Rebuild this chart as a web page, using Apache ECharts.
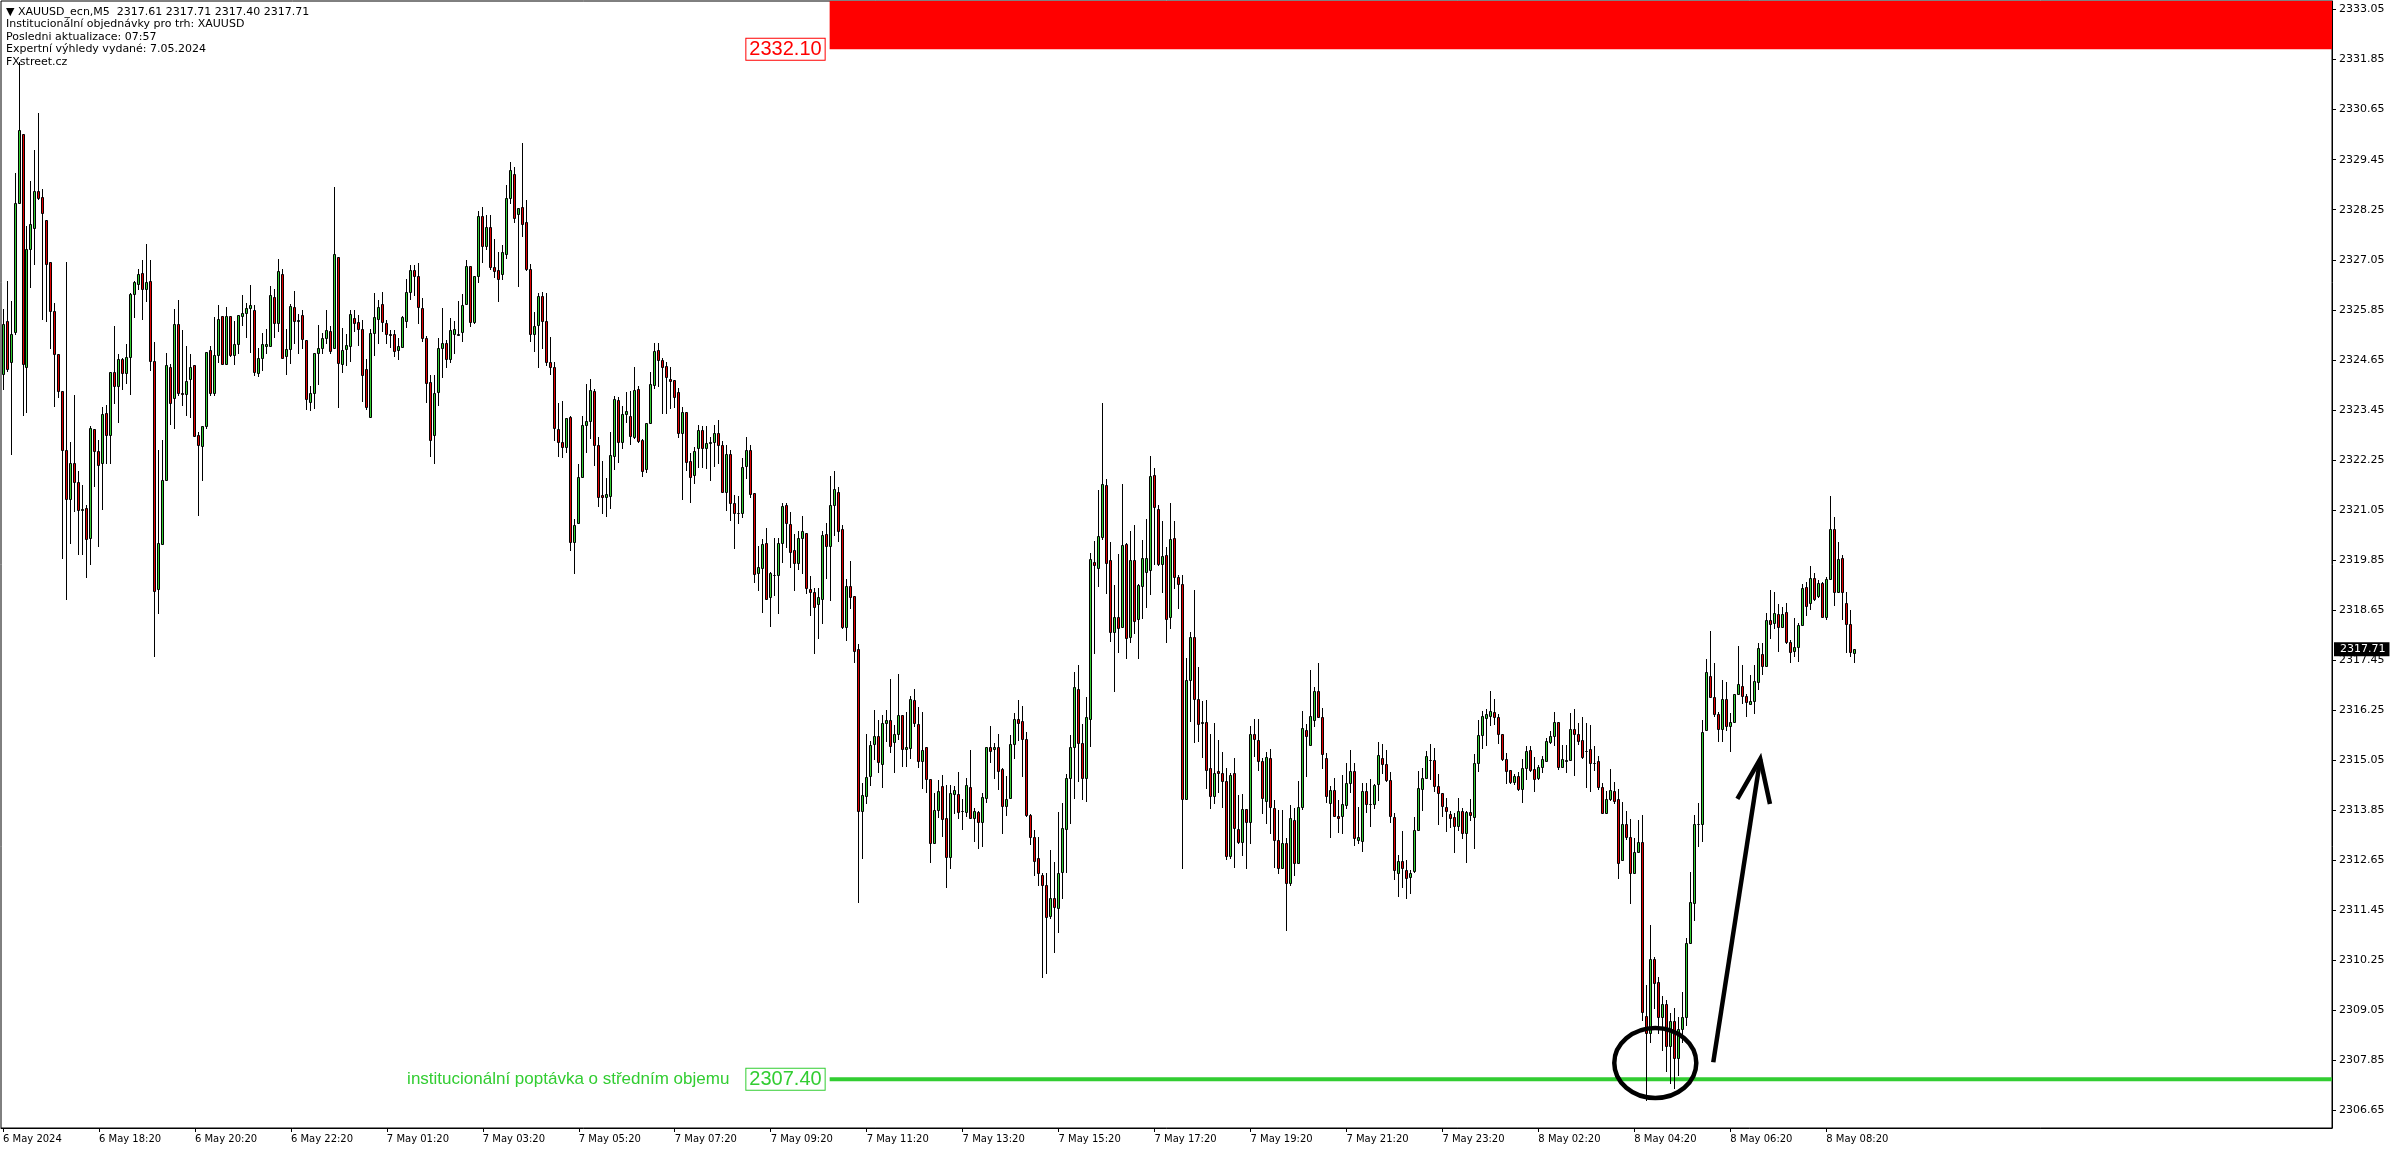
<!DOCTYPE html>
<html>
<head>
<meta charset="utf-8">
<script src="https://cdn.jsdelivr.net/npm/echarts@6/dist/echarts.min.js"></script>
<style>
html,body{margin:0;padding:0;background:#fff;}
#chart{width:2396px;height:1154px;}
</style>
</head>
<body>
<div id="chart"></div>
<script>
// ---------------- data ----------------
const symbolName = 'XAUUSD_ecn,M5';
const infoLines = [
  'Institucionální objednávky pro trh: XAUUSD',
  'Posledni aktualizace: 07:57',
  'Expertní výhledy vydané: 7.05.2024',
  'FXstreet.cz'
];
const xTickLabels = ['6 May 2024','6 May 18:20','6 May 20:20','6 May 22:20','7 May 01:20','7 May 03:20',
  '7 May 05:20','7 May 07:20','7 May 09:20','7 May 11:20','7 May 13:20','7 May 15:20','7 May 17:20',
  '7 May 19:20','7 May 21:20','7 May 23:20','8 May 02:20','8 May 04:20','8 May 06:20','8 May 08:20'];
const yTickValues = [2306.65,2307.85,2309.05,2310.25,2311.45,2312.65,2313.85,2315.05,2316.25,2317.45,
  2318.65,2319.85,2321.05,2322.25,2323.45,2324.65,2325.85,2327.05,2328.25,2329.45,2330.65,2331.85,2333.05];
// M5 bars from 6 May 16:20, rows: [open, high, low, close]
const ohlc = [
[2324.30,2325.86,2323.95,2325.52],[2325.57,2326.55,2324.39,2324.44],[2324.59,2326.06,2322.39,2325.27],[2325.32,2329.14,2325.27,2328.41],[2328.41,2331.80,2328.41,2330.17],
[2330.07,2330.07,2323.32,2324.54],[2324.49,2327.87,2323.40,2327.30],[2327.30,2328.94,2326.40,2327.90],[2327.82,2329.68,2326.94,2328.70],[2328.70,2330.56,2328.50,2328.53],
[2328.55,2328.75,2325.62,2328.16],[2328.01,2328.01,2325.59,2326.96],[2326.99,2326.99,2324.93,2325.81],[2325.81,2326.01,2323.54,2324.80],[2324.80,2324.80,2323.76,2323.90],
[2323.90,2323.90,2319.89,2322.50],[2322.50,2326.99,2318.91,2321.31],[2321.31,2322.68,2320.25,2322.17],[2322.17,2323.81,2321.02,2321.72],[2321.72,2321.99,2319.99,2321.05],
[2321.05,2321.65,2319.99,2321.07],[2321.09,2321.16,2319.45,2320.36],[2320.38,2323.07,2319.76,2323.02],[2323.00,2323.00,2321.62,2322.47],[2322.47,2322.73,2320.19,2322.14],
[2322.17,2323.51,2321.07,2323.36],[2323.37,2323.56,2322.17,2322.85],[2322.85,2324.37,2322.17,2324.37],[2324.37,2325.47,2323.61,2324.02],[2324.02,2324.78,2323.17,2324.67],
[2324.67,2324.69,2323.95,2324.34],[2324.34,2325.03,2324.10,2324.72],[2324.72,2326.25,2323.83,2326.22],[2326.22,2326.55,2325.67,2326.51],[2326.48,2326.84,2326.35,2326.72],
[2326.74,2327.04,2325.64,2326.35],[2326.35,2327.43,2326.06,2326.51],[2326.55,2327.04,2324.41,2324.62],[2324.62,2325.08,2317.54,2319.11],[2319.16,2322.48,2318.57,2320.25],
[2320.23,2322.73,2320.23,2321.77],[2321.77,2324.81,2321.77,2324.52],[2324.49,2324.54,2323.12,2323.61],[2323.73,2325.86,2323.02,2325.50],[2325.50,2326.09,2323.81,2323.85],
[2323.85,2325.37,2323.56,2323.83],[2323.83,2324.98,2323.32,2324.15],[2324.20,2324.78,2323.27,2324.49],[2324.52,2324.52,2322.83,2322.83],[2322.85,2322.93,2320.92,2322.60],
[2322.58,2323.07,2321.77,2323.07],[2323.07,2324.83,2323.02,2324.83],[2324.88,2324.98,2323.81,2323.85],[2323.85,2325.67,2323.81,2324.77],[2324.77,2325.96,2324.59,2325.62],
[2325.71,2325.71,2324.54,2324.54],[2324.54,2325.91,2324.54,2325.71],[2325.71,2325.71,2324.74,2324.77],[2324.77,2325.57,2324.54,2325.03],[2325.02,2325.73,2324.81,2325.73],
[2325.71,2326.20,2325.49,2325.78],[2325.78,2326.01,2325.19,2325.89],[2325.89,2326.44,2324.85,2325.97],[2325.84,2325.97,2324.29,2324.37],[2324.33,2324.93,2324.27,2324.69],
[2324.70,2325.29,2324.41,2325.02],[2324.99,2325.38,2324.82,2325.02],[2324.99,2326.42,2324.99,2326.20],[2326.15,2326.36,2325.21,2325.53],[2325.53,2327.06,2325.35,2326.77],
[2326.70,2326.82,2324.70,2324.70],[2324.75,2325.38,2324.32,2324.90],[2324.91,2326.00,2324.57,2325.94],[2325.91,2326.29,2325.06,2325.57],[2325.57,2325.75,2324.82,2325.61],
[2325.72,2325.84,2324.94,2325.14],[2325.13,2325.13,2323.46,2323.70],[2323.65,2324.02,2323.45,2323.85],[2323.86,2324.82,2323.49,2324.81],[2324.81,2325.49,2324.07,2324.93],
[2324.93,2325.29,2324.81,2325.17],[2325.17,2325.85,2325.05,2325.37],[2325.34,2325.45,2324.82,2324.87],[2324.94,2328.79,2324.94,2327.18],[2327.11,2327.11,2323.53,2324.57],
[2324.54,2325.41,2324.35,2324.89],[2324.92,2325.27,2324.53,2325.00],[2324.98,2325.84,2324.63,2325.75],[2325.65,2325.85,2325.33,2325.54],[2325.55,2325.72,2325.00,2325.38],
[2325.40,2325.60,2323.67,2324.28],[2324.42,2324.67,2323.48,2323.53],[2323.27,2325.39,2323.27,2325.29],[2325.29,2326.25,2324.76,2325.67],[2325.64,2326.08,2325.05,2325.91],
[2325.98,2326.27,2325.33,2325.55],[2325.54,2325.61,2325.05,2325.26],[2325.26,2325.37,2324.95,2325.25],[2325.26,2325.37,2324.75,2324.87],[2324.88,2325.17,2324.68,2324.99],
[2324.97,2325.70,2324.97,2325.67],[2325.57,2326.59,2325.43,2326.27],[2326.27,2326.93,2326.10,2326.80],[2326.80,2326.92,2326.20,2326.65],[2326.67,2326.97,2325.53,2325.91],
[2325.89,2326.13,2325.10,2325.17],[2325.17,2325.22,2323.65,2324.09],[2324.11,2324.29,2322.35,2322.74],[2322.84,2324.29,2322.17,2323.85],[2323.89,2325.17,2323.56,2324.93],
[2324.93,2325.89,2324.25,2325.05],[2325.05,2325.13,2324.49,2324.66],[2324.66,2325.66,2324.61,2325.37],[2325.26,2325.58,2324.82,2325.39],[2325.25,2326.06,2325.25,2325.27],
[2325.31,2326.23,2325.11,2325.97],[2325.98,2327.04,2325.98,2326.90],[2326.90,2326.90,2325.47,2325.56],[2325.56,2326.66,2325.53,2326.66],[2326.67,2328.22,2326.52,2328.10],
[2328.10,2328.32,2327.00,2327.39],[2327.39,2328.12,2327.30,2327.84],[2327.84,2328.12,2326.84,2326.87],[2326.88,2327.55,2326.64,2326.78],[2326.80,2327.23,2326.07,2326.59],
[2326.72,2327.40,2326.59,2327.23],[2327.20,2328.84,2327.10,2328.52],[2328.54,2329.39,2328.42,2329.20],[2329.11,2329.27,2327.96,2328.06],[2328.15,2328.28,2326.43,2328.28],
[2328.31,2329.84,2327.63,2327.90],[2327.95,2328.48,2326.80,2326.84],[2326.84,2326.94,2325.11,2325.26],[2325.26,2325.80,2324.87,2325.46],[2325.48,2326.25,2324.49,2326.18],
[2326.18,2326.28,2324.94,2325.57],[2325.57,2326.25,2324.53,2324.59],[2324.59,2325.20,2324.30,2324.47],[2324.47,2324.60,2322.74,2323.01],[2322.99,2323.61,2322.35,2322.69],
[2322.67,2323.66,2322.33,2322.57],[2322.57,2323.25,2322.45,2323.25],[2323.29,2323.31,2320.09,2320.29],[2320.29,2320.83,2319.55,2320.69],[2320.73,2322.15,2320.73,2321.85],
[2321.85,2323.30,2321.83,2323.08],[2323.08,2324.06,2322.45,2323.18],[2323.18,2324.19,2322.77,2323.93],[2323.90,2323.95,2322.14,2322.62],[2322.62,2322.79,2321.15,2321.37],
[2321.40,2322.22,2320.97,2321.37],[2321.37,2321.81,2320.91,2321.43],[2321.39,2322.91,2321.11,2322.37],[2322.35,2323.78,2322.03,2323.70],[2323.69,2323.75,2322.21,2322.67],
[2322.67,2323.54,2322.53,2323.34],[2323.34,2323.87,2323.17,2323.42],[2323.30,2323.90,2322.63,2322.83],[2322.81,2324.48,2322.77,2323.93],[2323.95,2324.03,2322.69,2322.71],
[2322.73,2322.75,2321.87,2321.99],[2322.03,2323.13,2321.97,2323.13],[2323.13,2324.35,2323.13,2324.06],[2324.05,2325.05,2323.97,2324.86],[2324.89,2325.05,2324.03,2324.65],
[2324.65,2324.69,2323.37,2324.49],[2324.50,2324.59,2323.37,2324.23],[2324.19,2324.47,2323.50,2324.15],[2324.17,2324.17,2323.53,2323.75],[2323.87,2323.97,2322.81,2322.89],
[2322.89,2323.51,2321.31,2323.39],[2323.39,2323.39,2322.00,2322.21],[2322.22,2322.41,2321.25,2321.85],[2321.89,2322.57,2321.69,2322.46],[2322.53,2323.09,2322.09,2322.97],
[2322.97,2323.06,2322.09,2322.53],[2322.53,2323.06,2322.05,2322.65],[2322.65,2322.80,2321.77,2322.69],[2322.69,2323.10,2322.10,2322.90],[2322.90,2323.20,2322.17,2322.60],
[2322.60,2322.70,2321.49,2321.49],[2321.49,2322.60,2321.05,2322.40],[2322.40,2322.50,2320.81,2321.21],[2321.23,2321.41,2320.15,2320.97],[2320.97,2321.39,2320.73,2320.97],
[2320.97,2322.30,2320.89,2322.07],[2322.10,2322.80,2321.81,2322.50],[2322.50,2322.60,2321.35,2321.43],[2321.45,2321.45,2319.33,2319.51],[2319.53,2320.19,2319.13,2319.68],
[2319.65,2320.36,2318.61,2320.23],[2320.25,2320.61,2318.91,2318.91],[2318.96,2319.57,2318.28,2319.53],[2319.50,2320.37,2319.01,2319.50],[2319.48,2320.37,2318.59,2320.27],
[2320.25,2321.23,2319.81,2321.15],[2321.17,2321.23,2320.17,2320.73],[2320.71,2321.01,2319.69,2320.05],[2320.09,2320.47,2319.13,2319.77],[2319.77,2320.55,2319.63,2320.37],
[2320.39,2320.91,2319.55,2320.55],[2320.49,2320.49,2319.07,2319.17],[2319.16,2319.47,2318.53,2319.08],[2319.08,2319.17,2317.63,2318.73],[2318.79,2319.17,2317.99,2318.96],
[2318.91,2320.55,2318.35,2320.45],[2320.47,2320.75,2319.43,2320.19],[2320.19,2321.87,2318.89,2321.17],[2321.17,2321.99,2320.45,2321.55],[2321.47,2321.59,2320.31,2320.55],
[2320.59,2320.69,2318.23,2318.25],[2318.25,2319.40,2317.93,2319.23],[2319.23,2319.83,2318.71,2318.97],[2318.99,2318.99,2317.41,2317.68],[2317.72,2317.84,2311.66,2313.84],
[2313.84,2314.51,2312.70,2314.22],[2314.19,2315.68,2314.02,2314.64],[2314.67,2315.50,2314.46,2315.42],[2315.43,2316.26,2315.08,2315.63],[2315.63,2316.02,2314.78,2315.00],
[2314.96,2316.13,2314.42,2315.94],[2315.94,2316.26,2315.52,2316.02],[2316.02,2316.99,2315.24,2315.40],[2315.48,2315.90,2314.78,2315.67],[2315.67,2317.13,2315.55,2316.13],
[2316.13,2316.13,2314.92,2315.31],[2315.31,2316.21,2314.92,2315.36],[2315.34,2316.59,2315.11,2316.53],[2316.49,2316.76,2315.88,2315.95],[2315.92,2316.33,2314.90,2315.04],
[2315.03,2316.21,2314.38,2315.30],[2315.36,2315.36,2314.30,2314.59],[2314.59,2314.59,2312.62,2313.07],[2313.06,2314.26,2313.06,2313.86],[2313.86,2314.58,2313.70,2314.31],
[2314.43,2314.70,2313.24,2313.63],[2313.66,2314.46,2312.02,2312.74],[2312.74,2314.46,2312.47,2314.26],[2314.23,2314.43,2313.78,2314.34],[2314.23,2314.78,2313.66,2313.82],
[2313.84,2314.11,2313.39,2313.84],[2313.82,2314.63,2313.71,2314.46],[2314.40,2315.30,2313.66,2313.66],[2313.66,2313.90,2313.12,2313.83],[2313.80,2313.83,2312.94,2313.58],
[2313.56,2314.26,2313.00,2314.16],[2314.14,2315.36,2314.06,2315.36],[2315.36,2315.86,2315.02,2315.28],[2315.31,2315.46,2314.63,2315.36],[2315.36,2315.68,2314.36,2314.80],
[2314.83,2314.86,2313.30,2313.96],[2313.95,2314.67,2313.74,2314.11],[2314.14,2315.66,2314.14,2315.43],[2315.43,2316.19,2315.11,2316.03],[2316.03,2316.50,2315.54,2315.95],
[2315.98,2316.35,2314.68,2315.55],[2315.55,2315.73,2313.71,2313.74],[2313.74,2313.76,2313.04,2313.22],[2313.22,2313.38,2312.31,2312.63],[2312.70,2313.20,2312.06,2312.34],
[2312.31,2312.34,2309.85,2312.07],[2312.07,2312.34,2309.96,2311.30],[2311.32,2312.90,2311.26,2311.74],[2311.74,2312.62,2310.46,2311.54],[2311.50,2313.82,2310.94,2312.34],
[2312.38,2314.02,2311.74,2313.42],[2313.39,2314.72,2312.36,2314.62],[2314.62,2315.66,2313.55,2315.36],[2315.36,2317.16,2314.14,2316.80],[2316.77,2317.33,2314.56,2315.47],
[2315.46,2315.92,2314.11,2314.62],[2314.62,2316.56,2314.08,2316.08],[2316.03,2320.01,2315.38,2319.87],[2319.81,2320.31,2317.63,2319.72],[2319.65,2321.53,2319.24,2320.43],
[2320.41,2323.61,2320.35,2321.67],[2321.65,2321.79,2319.07,2319.77],[2319.85,2320.29,2317.90,2318.12],[2318.12,2319.25,2316.71,2318.48],[2318.48,2319.99,2317.65,2318.21],
[2318.25,2321.67,2318.25,2320.20],[2320.23,2320.25,2317.51,2317.99],[2318.01,2320.55,2317.89,2319.85],[2319.85,2320.69,2318.09,2318.40],[2318.43,2319.27,2317.51,2319.25],
[2319.24,2320.33,2318.45,2319.89],[2319.57,2320.83,2318.72,2319.91],[2319.60,2322.35,2319.03,2321.86],[2321.89,2322.05,2319.75,2321.13],[2321.07,2321.17,2319.73,2319.75],
[2319.75,2320.79,2319.09,2319.95],[2319.97,2320.17,2317.89,2318.43],[2318.48,2321.21,2318.23,2320.35],[2320.37,2320.79,2319.17,2319.44],[2319.44,2319.49,2318.70,2319.28],
[2319.28,2319.49,2312.46,2314.11],[2314.11,2317.49,2314.11,2316.97],[2316.97,2318.12,2316.00,2318.00],[2318.00,2319.13,2315.48,2316.53],[2316.53,2317.28,2315.52,2315.93],
[2315.95,2316.47,2315.12,2315.96],[2315.96,2316.49,2314.38,2314.82],[2314.86,2315.68,2313.91,2314.20],[2314.19,2315.94,2314.02,2314.74],[2314.79,2315.54,2314.30,2314.74],
[2314.74,2315.24,2313.94,2314.55],[2314.55,2314.86,2312.68,2312.76],[2312.76,2314.74,2312.70,2314.70],[2314.74,2315.10,2312.50,2313.43],[2313.40,2314.22,2313.07,2313.10],
[2313.10,2314.24,2312.78,2313.87],[2313.87,2313.87,2312.46,2313.56],[2313.56,2315.88,2313.06,2315.68],[2315.69,2316.05,2315.16,2315.55],[2315.54,2316.03,2314.82,2315.04],
[2315.03,2315.10,2313.79,2314.14],[2314.08,2315.24,2313.54,2315.12],[2315.10,2315.32,2313.31,2313.94],[2313.90,2314.10,2312.50,2313.15],[2313.15,2313.86,2312.34,2312.46],
[2312.46,2313.86,2312.46,2313.06],[2313.06,2313.18,2310.98,2312.10],[2312.10,2313.98,2312.06,2313.66],[2313.62,2313.90,2312.30,2312.58],[2312.58,2314.56,2312.58,2313.92],
[2313.92,2316.23,2313.87,2315.82],[2315.78,2315.92,2314.67,2315.62],[2315.42,2317.21,2315.42,2316.11],[2316.02,2316.80,2315.88,2316.71],[2316.71,2317.37,2316.08,2316.08],
[2316.09,2316.31,2314.87,2315.19],[2315.10,2315.22,2314.04,2314.20],[2314.02,2314.43,2313.20,2314.34],[2314.34,2314.63,2313.72,2313.72],[2313.72,2314.10,2313.34,2313.67],
[2313.71,2314.70,2313.30,2313.99],[2313.98,2314.99,2313.90,2314.50],[2314.50,2315.30,2314.30,2314.79],[2314.79,2314.99,2313.03,2313.18],[2313.14,2313.92,2313.06,2313.20],
[2313.11,2314.51,2312.88,2314.31],[2314.31,2314.51,2313.80,2314.00],[2314.00,2314.60,2313.48,2314.00],[2313.99,2314.48,2313.90,2314.46],[2314.47,2315.48,2314.10,2315.18],
[2315.10,2315.44,2314.75,2314.95],[2314.96,2315.30,2314.56,2314.58],[2314.58,2314.78,2313.58,2313.72],[2313.68,2313.79,2312.20,2312.43],[2312.34,2312.78,2311.80,2312.63],
[2312.63,2313.36,2312.02,2312.47],[2312.43,2312.67,2311.74,2312.23],[2312.26,2312.42,2311.86,2312.34],[2312.39,2313.68,2312.38,2313.38],[2313.38,2314.79,2313.38,2314.38],
[2314.35,2314.86,2313.86,2314.62],[2314.63,2315.27,2314.63,2315.15],[2315.05,2315.43,2314.59,2315.06],[2315.06,2315.34,2314.31,2314.44],[2314.44,2314.71,2313.52,2314.26],
[2314.26,2314.26,2313.71,2313.96],[2313.92,2314.14,2313.36,2313.84],[2313.75,2313.83,2313.46,2313.67],[2313.70,2313.79,2312.86,2313.48],[2313.48,2314.15,2313.38,2313.83],
[2313.83,2313.91,2313.19,2313.30],[2313.30,2313.83,2312.62,2313.80],[2313.80,2314.12,2313.62,2313.73],[2313.70,2315.20,2312.95,2314.98],[2314.98,2316.01,2314.80,2315.66],
[2315.66,2316.24,2315.35,2316.11],[2316.07,2316.27,2315.42,2316.17],[2316.12,2316.71,2315.90,2316.23],[2316.20,2316.52,2315.91,2316.08],[2316.08,2316.17,2315.47,2315.67],
[2315.67,2315.67,2315.06,2315.07],[2315.07,2315.22,2314.50,2314.80],[2314.82,2314.82,2314.51,2314.52],[2314.52,2314.71,2314.47,2314.67],[2314.67,2314.78,2314.34,2314.36],
[2314.35,2315.08,2314.06,2314.86],[2314.86,2315.40,2314.59,2315.26],[2315.30,2315.40,2314.80,2314.82],[2314.83,2315.14,2314.32,2314.59],[2314.62,2314.94,2314.59,2314.88],
[2314.88,2315.15,2314.78,2315.08],[2315.04,2315.58,2315.04,2315.50],[2315.48,2315.74,2315.46,2315.63],[2315.63,2316.20,2315.42,2315.96],[2315.96,2315.96,2314.83,2314.90],
[2314.90,2315.41,2314.88,2315.08],[2315.04,2315.41,2314.78,2315.05],[2315.06,2316.19,2315.06,2315.79],[2315.79,2316.29,2314.70,2315.69],[2315.67,2315.95,2315.43,2315.51],
[2315.54,2316.08,2315.10,2315.14],[2315.27,2315.94,2314.40,2315.28],[2315.31,2315.90,2314.31,2314.98],[2314.98,2315.39,2314.82,2314.98],[2315.03,2315.16,2314.35,2314.42],
[2314.40,2314.50,2313.78,2313.78],[2313.78,2314.31,2313.78,2314.12],[2314.12,2314.83,2314.10,2314.34],[2314.31,2314.54,2314.03,2314.08],[2314.12,2314.35,2312.22,2312.58],
[2312.67,2314.04,2312.67,2313.51],[2313.51,2313.83,2313.16,2313.22],[2313.20,2313.63,2311.62,2312.34],[2312.34,2313.18,2312.34,2312.84],[2312.84,2313.62,2312.84,2313.10],
[2313.10,2313.74,2308.82,2309.01],[2308.92,2309.66,2306.90,2308.50],[2308.52,2311.10,2308.30,2310.28],[2310.28,2310.34,2309.10,2309.70],[2309.74,2309.85,2308.50,2308.90],
[2308.90,2309.40,2308.10,2309.20],[2309.20,2309.30,2307.60,2308.20],[2308.20,2309.00,2307.30,2308.80],[2308.80,2309.10,2307.20,2307.90],[2307.90,2308.90,2307.50,2308.60],
[2308.60,2309.50,2308.30,2308.90],[2308.90,2310.78,2308.70,2310.66],[2310.66,2312.38,2310.66,2311.65],[2311.63,2313.73,2311.23,2313.51],[2313.51,2314.03,2313.00,2313.53],
[2313.53,2316.02,2313.12,2315.72],[2315.78,2317.48,2315.78,2317.16],[2317.07,2318.15,2316.56,2316.56],[2316.56,2317.39,2316.11,2316.17],[2316.17,2316.21,2315.51,2315.81],
[2315.79,2316.97,2315.50,2316.53],[2316.53,2316.92,2315.78,2315.86],[2315.86,2316.18,2315.26,2315.96],[2315.96,2316.65,2315.96,2316.63],[2316.63,2317.79,2316.63,2316.88],
[2316.84,2317.33,2316.43,2316.59],[2316.59,2316.65,2316.12,2316.44],[2316.39,2317.09,2316.39,2316.48],[2316.48,2317.33,2316.18,2316.95],[2316.92,2317.85,2316.75,2317.73],
[2317.60,2317.85,2317.13,2317.32],[2317.32,2318.59,2317.32,2318.41],[2318.41,2319.13,2317.99,2318.31],[2318.33,2319.09,2318.23,2318.57],[2318.55,2318.80,2317.68,2318.25],
[2318.25,2318.73,2318.25,2318.55],[2318.60,2318.81,2317.87,2317.88],[2317.88,2317.93,2317.41,2317.65],[2317.67,2318.45,2317.56,2317.76],[2317.76,2318.33,2317.44,2318.29],
[2318.29,2319.28,2318.29,2319.19],[2319.21,2319.33,2318.53,2318.76],[2318.83,2319.71,2318.67,2319.41],[2319.41,2319.55,2318.89,2318.91],[2318.99,2319.36,2318.97,2319.29],
[2319.29,2319.33,2318.48,2318.48],[2318.48,2319.45,2318.43,2319.39],[2319.40,2321.39,2319.40,2320.59],[2320.59,2320.89,2318.77,2319.09],[2319.08,2320.29,2319.08,2319.87],
[2319.89,2319.97,2318.43,2319.08],[2318.81,2319.08,2317.65,2318.32],[2318.32,2318.65,2317.56,2317.65],[2317.61,2317.71,2317.40,2317.71]
];
// annotation anchors: [bar index, price]
const supplyLevel = [206.75, 2332.10];
const demandLevel = [206.75, 2307.40];
const demandText = 'institucionální poptávka o středním objemu';
const circleCenter = [413.25, 2307.79];
const arrowTail = [427.75, 2307.81];
const arrowTip = [439.5, 2315.08];

// ---------------- build ----------------
const totalSlots = 583;           // bar slots across the plot, incl. empty right margin
const pad2 = n => (n < 10 ? '0' : '') + n;
const categories = [];
(function () {
  let d = 6, h = 16, m = 20;
  for (let i = 0; i < ohlc.length; i++) {
    categories.push(d + ' May ' + pad2(h) + ':' + pad2(m));
    m += 5;
    if (m >= 60) { m = 0; h += 1; if (h >= 24) { h = 0; d += 1; } }
    if (h === 0) { h = 1; }          // daily break 00:00-00:55, no bars
  }
  for (let i = ohlc.length; i < totalSlots; i++) categories.push('slot' + i);
})();
const candleData = ohlc.map((r, i) => [i, r[0], r[1], r[2], r[3]]);
const last = ohlc[ohlc.length - 1];
const headerText = ['\u25BC ' + symbolName + '  ' + last.map(v => v.toFixed(2)).join(' ')].concat(infoLines).join('\n');

const UP = '#32CD32', DOWN = '#E00000', LINE_GREEN = '#32CD32', ZONE_RED = '#FF0000';

function px(api, v) {
  const i = Math.floor(v[0]);
  const p = api.coord([i, v[1]]);
  p[0] += (v[0] - i) * api.size([1, 0])[0];
  return p;
}

const chart = echarts.init(document.getElementById('chart'), null, { renderer: 'canvas' });
chart.setOption({
  animation: false,
  backgroundColor: '#ffffff',
  grid: { left: 0, top: 1, width: 2332, height: 1127, show: true, borderColor: '#000', borderWidth: 1, backgroundColor: 'transparent' },
  xAxis: {
    type: 'category', data: categories, boundaryGap: true,
    axisLine: { show: true, lineStyle: { color: '#000', width: 1 } },
    axisTick: { show: true, alignWithLabel: true, length: 4, interval: (i) => i % 24 === 0 && i < ohlc.length, lineStyle: { color: '#000' } },
    axisLabel: {
      show: true, interval: 23, align: 'left', margin: 6, color: '#000',
      fontFamily: 'DejaVu Sans', fontSize: 10,
      formatter: (v, i) => (i < ohlc.length && i % 24 === 0 ? xTickLabels[i / 24] : '')
    },
    splitLine: { show: false }
  },
  yAxis: {
    type: 'value', position: 'right', min: 2306.233, max: 2333.254, scale: true,
    axisLine: { show: true, lineStyle: { color: '#000', width: 1 } },
    axisTick: { show: true, length: 4, customValues: yTickValues, lineStyle: { color: '#000' } },
    axisLabel: { show: true, customValues: yTickValues, formatter: v => Number(v).toFixed(2), margin: 7, color: '#000', fontFamily: 'DejaVu Sans', fontSize: 11 },
    splitLine: { show: false }
  },
  graphic: [{
    type: 'text', left: 6, top: 6, z: 100,
    style: { text: headerText, font: '11px "DejaVu Sans"', lineHeight: 12.4, fill: '#000' }
  }],
  series: [
    {
      // supply zone (red box) with its price tag
      type: 'custom', z: 1, silent: true, clip: false,
      data: [supplyLevel],
      renderItem: (params, api) => {
        const cs = params.coordSys;
        const p = px(api, supplyLevel);
        const right = cs.x + cs.width;
        return { type: 'group', children: [
          { type: 'rect', shape: { x: p[0], y: cs.y, width: right - p[0], height: p[1] - cs.y }, style: { fill: ZONE_RED } },
          { type: 'text', x: p[0] - 5, y: p[1], style: {
              text: supplyLevel[1].toFixed(2), font: '20px "Liberation Sans"', fill: ZONE_RED,
              align: 'right', verticalAlign: 'middle', backgroundColor: '#fff',
              borderColor: ZONE_RED, borderWidth: 1, padding: [1, 3, 0, 3] } }
        ]};
      }
    },
    {
      // demand level (green line) with its description
      type: 'custom', z: 1, silent: true, clip: false,
      data: [demandLevel],
      renderItem: (params, api) => {
        const cs = params.coordSys;
        const p = px(api, demandLevel);
        const right = cs.x + cs.width;
        return { type: 'group', children: [
          { type: 'line', shape: { x1: p[0], y1: p[1], x2: right, y2: p[1] }, style: { stroke: LINE_GREEN, lineWidth: 4 } },
          { type: 'text', x: p[0] - 5, y: p[1], style: {
              text: '{t|' + demandText + '}{b|' + demandLevel[1].toFixed(2) + '}',
              align: 'right', verticalAlign: 'middle',
              rich: {
                t: { font: '17px "Liberation Sans"', fill: LINE_GREEN, color: LINE_GREEN, padding: [0, 17, 0, 0] },
                b: { font: '20px "Liberation Sans"', color: LINE_GREEN, fill: LINE_GREEN, backgroundColor: '#fff', borderColor: LINE_GREEN, borderWidth: 1, padding: [1, 3, 0, 3] }
              } } }
        ]};
      }
    },
    {
      // OHLC candles: black wick, black-outlined body, green up / red down
      type: 'custom', z: 2, name: symbolName, silent: true,
      data: candleData,
      encode: { x: 0, y: [1, 2, 3, 4] },
      renderItem: (params, api) => {
        const i = api.value(0);
        const o = api.value(1), h = api.value(2), l = api.value(3), c = api.value(4);
        const pO = api.coord([i, o]), pC = api.coord([i, c]);
        const pH = api.coord([i, h]), pL = api.coord([i, l]);
        const xc = Math.floor(pO[0] + 0.01) + 0.5;
        const yTop = Math.round(Math.min(pO[1], pC[1])) + 0.5;
        const yBot = Math.round(Math.max(pO[1], pC[1])) + 0.5;
        return { type: 'group', children: [
          { type: 'line', shape: { x1: xc, y1: Math.round(pH[1]), x2: xc, y2: Math.round(pL[1]) + 1 }, style: { stroke: '#000', lineWidth: 1 } },
          { type: 'rect', shape: { x: xc - 1, y: yTop, width: 2, height: Math.max(yBot - yTop, 0) },
            style: { fill: c >= o ? UP : DOWN, stroke: '#000', lineWidth: 1 } }
        ]};
      }
    },
    {
      // current price tag on the price scale
      type: 'custom', z: 5, silent: true, clip: false,
      data: [[ohlc.length - 1, last[3]]],
      renderItem: (params, api) => {
        const cs = params.coordSys;
        const y = api.coord([ohlc.length - 1, last[3]])[1];
        return { type: 'text', x: cs.x + cs.width + 2, y: y, style: {
          text: last[3].toFixed(2), font: '11px "DejaVu Sans"', fill: '#fff', backgroundColor: '#000',
          padding: [2, 4, 1, 6], align: 'left', verticalAlign: 'middle' } };
      }
    },
    {
      // black ellipse around the low
      type: 'custom', z: 3, silent: true, clip: false,
      data: [circleCenter],
      renderItem: (params, api) => {
        const c = px(api, circleCenter);
        return { type: 'ellipse', shape: { cx: c[0], cy: c[1], rx: 41, ry: 35 }, style: { fill: 'none', stroke: '#000', lineWidth: 4.5 } };
      }
    },
    {
      // black arrow up
      type: 'custom', z: 3, silent: true, clip: false,
      data: [arrowTip],
      renderItem: (params, api) => {
        const a = px(api, arrowTail), b = px(api, arrowTip);
        const ang = Math.atan2(a[1] - b[1], a[0] - b[0]);
        const L = 46, s = 21 * Math.PI / 180;
        const h1 = [b[0] + L * Math.cos(ang + s), b[1] + L * Math.sin(ang + s)];
        const h2 = [b[0] + L * Math.cos(ang - s), b[1] + L * Math.sin(ang - s)];
        return { type: 'group', children: [
          { type: 'polyline', shape: { points: [a, b] }, style: { stroke: '#000', lineWidth: 4.5, fill: 'none' } },
          { type: 'polyline', shape: { points: [h1, b, h2] }, style: { stroke: '#000', lineWidth: 4.5, fill: 'none', lineJoin: 'miter' } }
        ]};
      }
    }
  ]
});
</script>
</body>
</html>
